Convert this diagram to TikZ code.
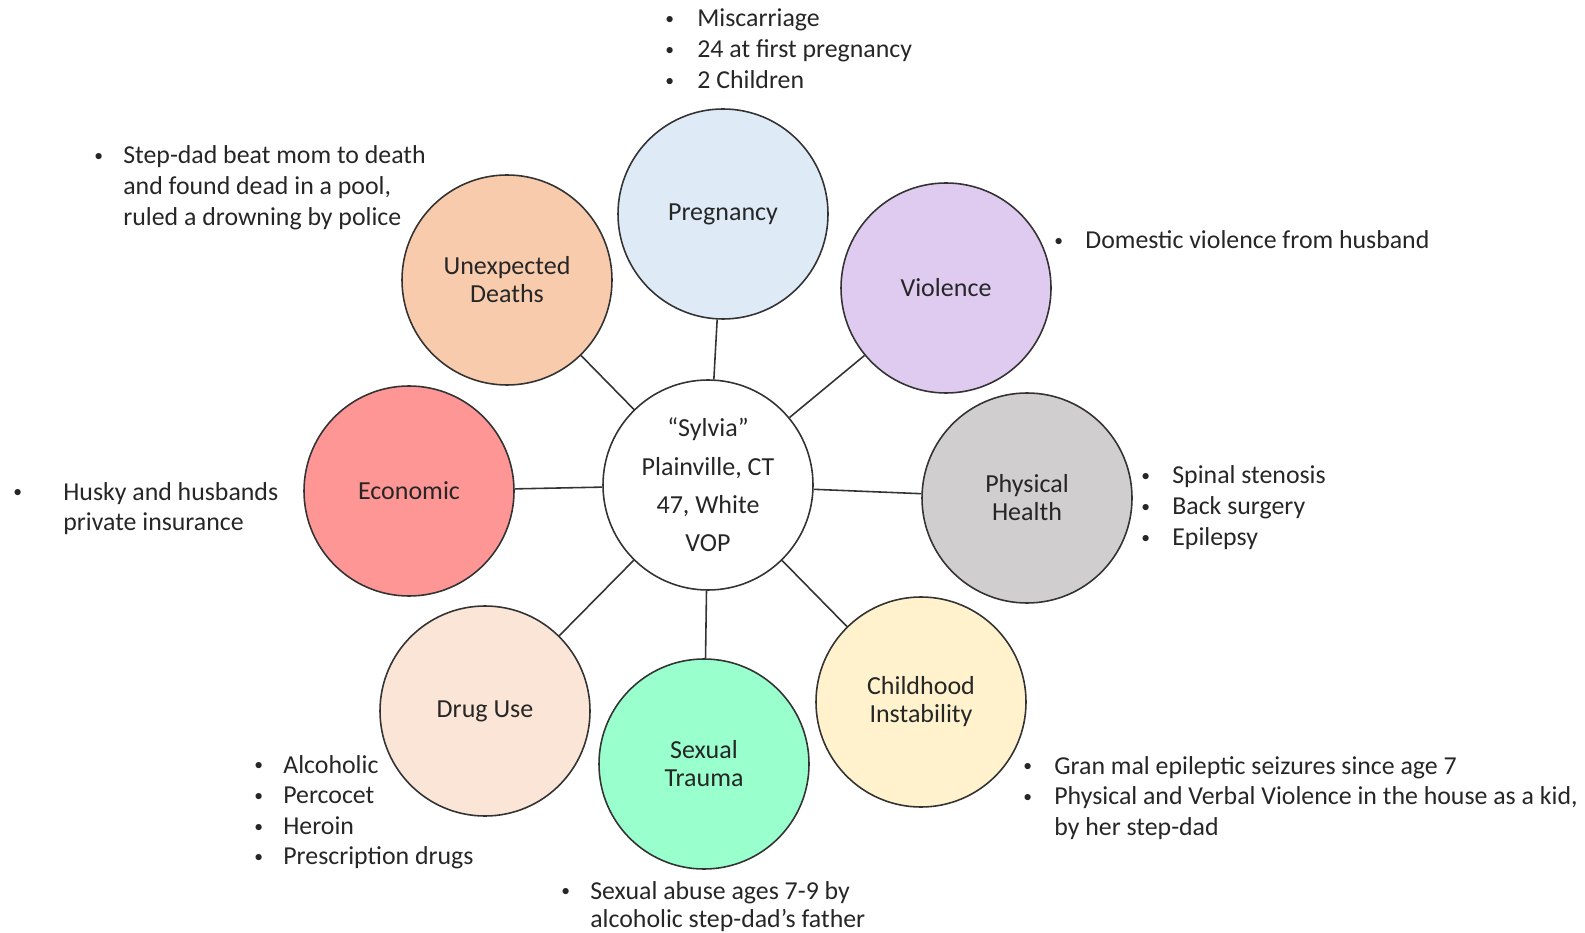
\documentclass[tikz,border=0pt]{standalone}
\usepackage{fontspec}
\setmainfont{Carlito}
\usepackage{xcolor}
\definecolor{pregblue}{RGB}{222,235,247}
\definecolor{violilac}{RGB}{224,203,240}
\definecolor{physgrey}{RGB}{208,206,206}
\definecolor{childyellow}{RGB}{255,242,204}
\definecolor{sexmint}{RGB}{153,255,204}
\definecolor{drugpeach}{RGB}{251,229,214}
\definecolor{econred}{RGB}{255,150,150}
\definecolor{deathsalmon}{RGB}{248,203,173}
\definecolor{inkgrey}{RGB}{38,38,38}
\usetikzlibrary{positioning}

% small bullet, and a bullet list with its first baseline at the node's base
\newcommand{\bul}{\raisebox{1.2pt}{\fontsize{10}{10}\selectfont\textbullet}}
\newcommand{\blist}[2][0.56cm]{\begin{tabular}[t]{@{}p{#1}@{}l@{}}#2\end{tabular}}

\begin{document}
\begin{tikzpicture}[
  font=\fontsize{14.7}{17.4}\selectfont, text=inkgrey,
  topic/.style={draw=black!80,line width=0.9pt,circle,minimum size=4.2cm,align=center,
    font=\fontsize{14.8}{16}\selectfont},
  spoke/.style={draw=black!80,line width=0.9pt},
  notes/.style={anchor=base west,inner sep=0pt}]
  \useasboundingbox (0,0) rectangle (31.7,18.64);

  \node[topic,fill=white,font=\fontsize{14.8}{21.8}\selectfont] (vop) at (14.16,8.94) {``Sylvia''\\Plainville, CT\\47, White\\VOP};
  \node[topic,fill=pregblue] (preg) at (14.46,14.36) {Pregnancy};
  \node[topic,fill=violilac] (viol) at (18.92,12.88) {Violence};
  \node[topic,fill=physgrey] (phys) at (20.54,8.68) {Physical\\Health};
  \node[topic,fill=childyellow] (child) at (18.42,4.60) {Childhood\\Instability};
  \node[topic,fill=sexmint] (sex) at (14.08,3.36) {Sexual\\Trauma};
  \node[topic,fill=drugpeach] (drug) at (9.70,4.42) {Drug Use};
  \node[topic,fill=econred] (econ) at (8.18,8.82) {Economic};
  \node[topic,fill=deathsalmon] (death) at (10.14,13.04) {Unexpected\\Deaths};

  \foreach \t in {preg,viol,phys,child,sex,drug,econ,death}
    \draw[spoke] (vop) -- (\t);

  \node[notes] (pregnotes) at (13.30,18.10) {\blist[0.64cm]{\bul & Miscarriage\\ \bul & 24 at first pregnancy\\ \bul & 2 Children}};
  \node[notes] (deathnotes) at (1.88,15.36) {\blist[0.58cm]{\bul & Step-dad beat mom to death\\ & and found dead in a pool,\\ & ruled a drowning by police}};
  \node[notes] (violnotes) at (21.08,13.66) {\blist[0.62cm]{\bul & Domestic violence from husband}};
  \node[notes] (physnotes) at (22.82,8.96) {\blist[0.62cm]{\bul & Spinal stenosis\\ \bul & Back surgery\\ \bul & Epilepsy}};
  \node[notes] (econnotes) at (0.26,8.64) {\blist[1.0cm]{\bul & Husky and husbands\\ & private insurance}};
  \node[notes] (childnotes) at (20.46,3.16) {\blist[0.62cm]{\bul & Gran mal epileptic seizures since age 7\\ \bul & Physical and Verbal Violence in the house as a kid,\\ & by her step-dad}};
  \node[notes] (sexnotes) at (11.22,0.66) {\blist[0.58cm]{\bul & Sexual abuse ages 7-9 by\\[-1pt] & alcoholic step-dad’s father}};
  \node[notes] (drugnotes) at (5.08,3.18) {\blist[0.58cm]{\bul & Alcoholic\\ \bul & Percocet\\ \bul & Heroin\\ \bul & Prescription drugs}};
\end{tikzpicture}
\end{document}
